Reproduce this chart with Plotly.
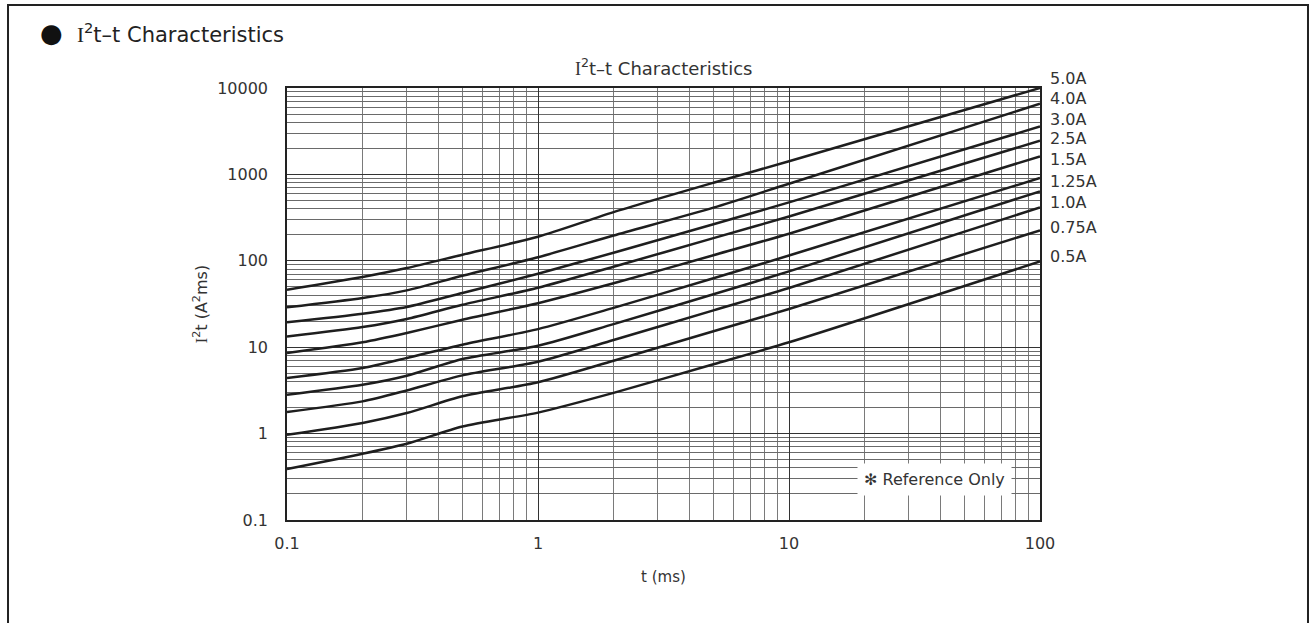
import plotly.graph_objects as go
import numpy as np

# ---- data ----
t_ms = [0.1, 0.2, 0.3, 0.5, 1, 2, 5, 10, 100]
i2t_5_0A = [46.3, 64.9, 82.5, 117.7, 190, 366, 800, 1420, 10000]
i2t_4_0A = [28.9, 37.1, 45.5, 67.2, 110, 196, 412, 780, 6580]
i2t_3_0A = [19.4, 24.4, 29.2, 42.4, 70.9, 124, 265, 474, 3590]
i2t_2_5A = [13.3, 17.1, 21.2, 31.0, 48.8, 85.4, 183, 326, 2455]
i2t_1_5A = [8.57, 11.4, 14.6, 20.8, 32.3, 54.9, 116, 206, 1615]
i2t_1_25A = [4.40, 5.74, 7.50, 10.7, 16.2, 28.5, 62.9, 115, 908]
i2t_1_0A = [2.82, 3.68, 4.68, 7.30, 10.4, 18.5, 41.0, 75.4, 636]
i2t_unlabeled = [1.78, 2.36, 3.16, 4.72, 6.80, 12.1, 26.7, 48.4, 415]
i2t_0_75A = [0.971, 1.33, 1.73, 2.70, 3.93, 6.98, 15.3, 27.7, 225]
i2t_0_5A = [0.389, 0.585, 0.764, 1.21, 1.75, 2.96, 6.35, 11.4, 98.4]

series = [i2t_5_0A, i2t_4_0A, i2t_3_0A, i2t_2_5A, i2t_1_5A, i2t_1_25A,
          i2t_1_0A, i2t_unlabeled, i2t_0_75A, i2t_0_5A]

label_texts = ["5.0A", "4.0A", "3.0A", "2.5A", "1.5A", "1.25A", "1.0A", "0.75A", "0.5A"]
label_y = [12800, 7520, 4300, 2590, 1480, 824, 470, 241, 111]

x_tickvals = [0.1, 1, 10, 100]
x_ticktext = ["0.1", "1", "10", "100"]
y_tickvals = [0.1, 1, 10, 100, 1000, 10000]
y_ticktext = ["0.1", "1", "10", "100", "1000", "10000"]

Y_MIN_LOG, Y_MAX_LOG = -1, 4

FONT = "DejaVu Sans, Verdana, sans-serif"
SERIF_I = "<span style='font-family:Liberation Serif, Times New Roman, serif'>I</span>"
TXT = "#333"

fig = go.Figure()
for ys in series:
    fig.add_trace(go.Scatter(x=t_ms, y=ys, mode="lines",
                             line=dict(color="#1e1e1e", width=2.5, shape="spline", smoothing=0.7),
                             showlegend=False, hoverinfo="skip"))

minor_x = [m * 10.0 ** e for e in range(-1, 2) for m in range(2, 10)]
minor_y = [m * 10.0 ** e for e in range(-1, 4) for m in range(2, 10)]

fig.update_xaxes(type="log", range=[-1, 2], tickmode="array", tickvals=x_tickvals,
                 ticktext=x_ticktext, showgrid=True, gridcolor="#333", gridwidth=1,
                 showline=True, linecolor="#222", linewidth=1.5, mirror=True, ticks="",
                 ticklabelstandoff=8,
                 tickfont=dict(family=FONT, size=16, color=TXT),
                 title=dict(text="t (ms)", font=dict(family=FONT, size=15, color=TXT), standoff=20),
                 minor=dict(tickmode="array", tickvals=minor_x, showgrid=True,
                            gridcolor="#7a7a7a", gridwidth=1, ticks=""),
                 zeroline=False)
fig.update_yaxes(type="log", range=[Y_MIN_LOG, Y_MAX_LOG], tickmode="array", tickvals=y_tickvals,
                 ticktext=y_ticktext, showgrid=True, gridcolor="#333", gridwidth=1,
                 showline=True, linecolor="#222", linewidth=1.5, mirror=True, ticks="",
                 ticklabelstandoff=14,
                 tickfont=dict(family=FONT, size=16, color=TXT),
                 title=dict(text=SERIF_I + "<sup>2</sup>t (A<sup>2</sup>ms)",
                            font=dict(family=FONT, size=16, color=TXT), standoff=6),
                 minor=dict(tickmode="array", tickvals=minor_y, showgrid=True,
                            gridcolor="#6a6a6a", gridwidth=1, ticks=""),
                 zeroline=False)

annotations = []
for txt, yv in zip(label_texts, label_y):
    ypaper = (np.log10(yv) - Y_MIN_LOG) / (Y_MAX_LOG - Y_MIN_LOG)
    annotations.append(dict(text=txt, xref="paper", x=1.011, xanchor="left",
                            yref="paper", y=ypaper, yanchor="middle", showarrow=False,
                            font=dict(family=FONT, size=16, color=TXT)))

# "Reference Only" note
annotations.append(dict(text="✻ Reference Only", xref="x", yref="y",
                        x=np.log10(37.9), y=np.log10(0.297), showarrow=False,
                        bgcolor="white", borderpad=6,
                        font=dict(family=FONT, size=16, color=TXT)))
# chart title
annotations.append(dict(text=SERIF_I + "<sup>2</sup>t–t Characteristics", xref="paper", yref="paper",
                        x=0.5, y=1.0486, xanchor="center", yanchor="middle", showarrow=False,
                        font=dict(family=FONT, size=18, color=TXT)))
# page heading
annotations.append(dict(text="●", xref="paper", yref="paper",
                        x=-0.3132, y=1.1273, xanchor="center", yanchor="middle", showarrow=False,
                        font=dict(family=FONT, size=26, color="#111")))
annotations.append(dict(text=SERIF_I + "<sup>2</sup>t–t Characteristics", xref="paper", yref="paper",
                        x=-0.2822, y=1.1273, xanchor="left", yanchor="middle", showarrow=False,
                        font=dict(family=FONT, size=21, color="#222")))

fig.update_layout(
    width=1315, height=623,
    margin=dict(l=287, r=275, t=88, b=103),
    paper_bgcolor="white", plot_bgcolor="white",
    annotations=annotations,
    shapes=[dict(type="rect", xref="paper", yref="paper",
                 x0=-0.3705, x1=1.3559, y0=-0.30, y1=1.1921,
                 line=dict(color="#222", width=2), layer="below")],
)

fig.write_html("out.html", config={"displayModeBar": False},
               post_script="document.body.style.margin='0';document.body.style.overflow='hidden';"
                           "document.documentElement.style.overflow='hidden';")
